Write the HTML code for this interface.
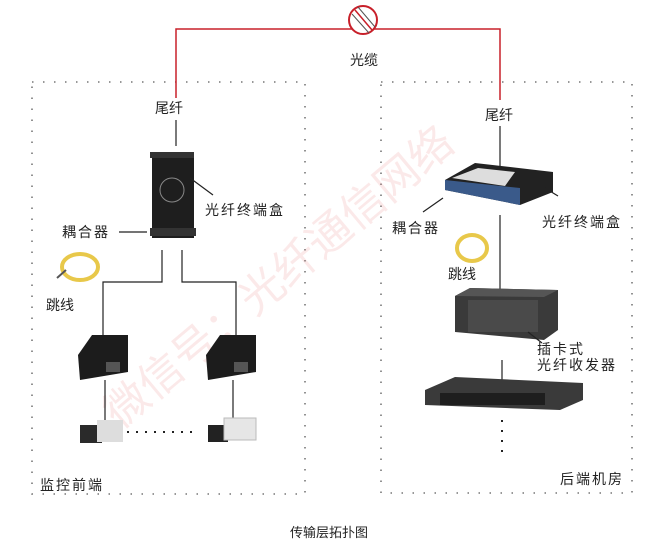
<!DOCTYPE html>
<html><head><meta charset="utf-8"><style>
body{margin:0;background:#fff;}
svg{display:block;font-family:"Liberation Sans","Noto Sans CJK SC",sans-serif;}
</style></head><body>
<svg width="670" height="549" viewBox="0 0 670 549">
<rect width="670" height="549" fill="#fff"/>
<rect x="32" y="82" width="273" height="412" fill="none" stroke="#777" stroke-width="1.6" stroke-dasharray="1.5 9.5"/>
<rect x="381" y="82" width="251" height="411" fill="none" stroke="#777" stroke-width="1.6" stroke-dasharray="1.5 9.5"/>
<polyline points="176,98 176,29 500,29 500,100" fill="none" stroke="#c8202a" stroke-width="1.5"/>
<circle cx="363" cy="20" r="14" fill="#fff" stroke="#c8202a" stroke-width="2"/>
<line x1="355" y1="10" x2="372" y2="30" stroke="#c8202a" stroke-width="1.5"/>
<line x1="352" y1="14" x2="369" y2="33" stroke="#555" stroke-width="1"/>
<line x1="358" y1="7" x2="375" y2="27" stroke="#555" stroke-width="1"/>
<text x="350" y="65" font-size="14" fill="#222">光缆</text>
<text x="120" y="430" font-size="44" fill="#e88" opacity="0.18" transform="rotate(-40 120 430)">微信号：光纤通信网络</text>
<text x="155" y="113" font-size="14" fill="#222">尾纤</text>
<line x1="176" y1="120" x2="176" y2="146" stroke="#222" stroke-width="1.2"/>
<rect x="152" y="154" width="42" height="84" fill="#1e1e1e"/>
<rect x="150" y="152" width="44" height="6" fill="#333"/>
<circle cx="172" cy="190" r="12" fill="none" stroke="#888" stroke-width="1"/>
<rect x="150" y="228" width="46" height="8" fill="#333"/>
<line x1="190" y1="178" x2="213" y2="195" stroke="#222" stroke-width="1.2"/>
<text x="205" y="215" font-size="14" fill="#222" letter-spacing="2">光纤终端盒</text>
<text x="62" y="237" font-size="14" fill="#222" letter-spacing="2">耦合器</text>
<line x1="119" y1="232" x2="147" y2="232" stroke="#222" stroke-width="1.2"/>
<ellipse cx="80" cy="267" rx="18" ry="13" fill="none" stroke="#e8c84a" stroke-width="4"/>
<line x1="57" y1="278" x2="66" y2="270" stroke="#555" stroke-width="2"/>
<text x="46" y="310" font-size="14" fill="#222">跳线</text>
<polyline points="162,250 162,282 103,282 103,345" fill="none" stroke="#222" stroke-width="1.2"/>
<polyline points="182,250 182,282 236,282 236,345" fill="none" stroke="#222" stroke-width="1.2"/>
<polygon points="78,355 92,335 128,335 128,372 80,380" fill="#1c1c1c"/>
<rect x="106" y="362" width="14" height="10" fill="#555"/>
<polygon points="206,355 220,335 256,335 256,372 208,380" fill="#1c1c1c"/>
<rect x="234" y="362" width="14" height="10" fill="#555"/>
<line x1="105" y1="380" x2="105" y2="428" stroke="#222" stroke-width="1.2"/>
<line x1="233" y1="380" x2="233" y2="428" stroke="#222" stroke-width="1.2"/>
<line x1="127" y1="432" x2="197" y2="432" stroke="#222" stroke-width="2" stroke-dasharray="2 7"/>
<rect x="80" y="425" width="22" height="18" fill="#2a2a2a"/>
<rect x="97" y="420" width="26" height="22" fill="#ddd"/>
<rect x="208" y="425" width="20" height="17" fill="#222"/>
<rect x="224" y="418" width="32" height="22" fill="#e6e6e6" stroke="#bbb"/>
<text x="40" y="490" font-size="14" fill="#222" letter-spacing="2">监控前端</text>
<text x="485" y="120" font-size="14" fill="#222">尾纤</text>
<line x1="500" y1="126" x2="500" y2="166" stroke="#222" stroke-width="1.2"/>
<polygon points="445,180 475,163 553,172 553,192 520,205 445,190" fill="#222"/>
<polygon points="445,180 520,188 520,205 445,190" fill="#3a5a8a"/>
<polygon points="452,178 478,168 515,172 505,186" fill="#ddd"/>
<line x1="443" y1="198" x2="423" y2="212" stroke="#222" stroke-width="1.2"/>
<text x="392" y="233" font-size="14" fill="#222" letter-spacing="2">耦合器</text>
<line x1="540" y1="185" x2="558" y2="196" stroke="#222" stroke-width="1.2"/>
<text x="542" y="227" font-size="14" fill="#222" letter-spacing="2">光纤终端盒</text>
<line x1="500" y1="215" x2="500" y2="292" stroke="#222" stroke-width="1.2"/>
<ellipse cx="472" cy="248" rx="15" ry="13" fill="none" stroke="#e8c84a" stroke-width="4"/>
<text x="448" y="279" font-size="14" fill="#222">跳线</text>
<polygon points="455,296 470,288 558,290 558,330 544,340 455,332" fill="#3a3a3a"/>
<polygon points="455,296 470,288 558,290 544,297" fill="#555"/>
<rect x="468" y="300" width="70" height="32" fill="#4a4a4a"/>
<line x1="528" y1="332" x2="542" y2="343" stroke="#222" stroke-width="1.2"/>
<text x="537" y="354" font-size="14" fill="#222" letter-spacing="2">插卡式</text>
<text x="537" y="370" font-size="14" fill="#222" letter-spacing="2">光纤收发器</text>
<line x1="502" y1="360" x2="502" y2="396" stroke="#222" stroke-width="1.2"/>
<polygon points="425,390 455,377 583,383 583,400 560,410 425,405" fill="#3a3a3a"/>
<rect x="440" y="393" width="105" height="12" fill="#1e1e1e"/>
<line x1="502" y1="420" x2="502" y2="460" stroke="#222" stroke-width="2" stroke-dasharray="2 8"/>
<text x="560" y="484" font-size="14" fill="#222" letter-spacing="2">后端机房</text>
<text x="290" y="537" font-size="13" fill="#222">传输层拓扑图</text>
</svg>
</body></html>
